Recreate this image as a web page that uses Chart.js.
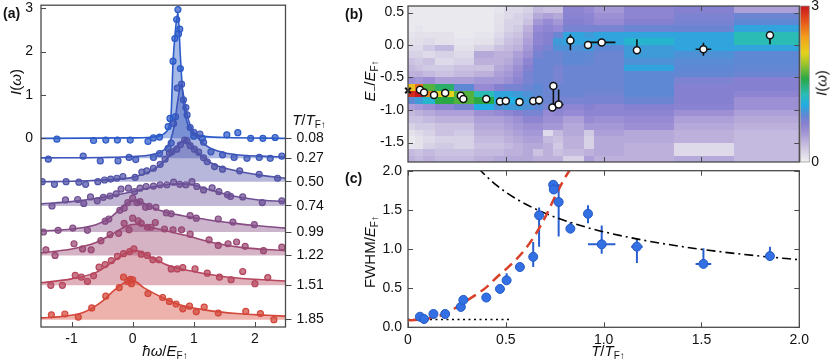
<!DOCTYPE html>
<html>
<head>
<meta charset="utf-8">
<script src="https://cdn.jsdelivr.net/npm/chart.js@4.4.1/dist/chart.umd.min.js"></script>
<style>
  body { margin: 0; background: #fff; font-family: "Liberation Sans", Arial, sans-serif; }
  #wrap { position: relative; width: 830px; height: 362px; overflow: hidden; }
  canvas { position: absolute; }
  .lbl { position: absolute; font-size: 15px; color: #111; white-space: nowrap; transform: translate(-50%, -50%); }
  .rot { transform: translate(-50%, -50%) rotate(-90deg); }
  .pan { position: absolute; font-size: 14px; font-weight: bold; color: #111; }
  sub { font-size: 10px; vertical-align: -3px; font-style: normal; }
</style>
</head>
<body>
<div id="wrap">
  <canvas id="chartA" width="330" height="362" style="left:0;top:0"></canvas>
  <canvas id="chartB" width="500" height="168" style="left:330px;top:0"></canvas>
  <canvas id="chartC" width="500" height="206" style="left:330px;top:156px"></canvas>

  <div class="pan" style="left:3px;top:5px">(a)</div>
  <div class="pan" style="left:345px;top:6px">(b)</div>
  <div class="pan" style="left:345px;top:170px">(c)</div>
  <div class="lbl rot" style="left:15px;top:82px"><i>I</i>(<i>ω</i>)</div>
  <div class="lbl" style="left:165px;top:351px"><i>ħω</i>/<i>E</i><sub>F↑</sub></div>
  <div class="lbl" style="left:309px;top:120px"><i>T</i>/<i>T</i><sub>F↑</sub></div>
  <div class="lbl rot" style="left:370px;top:81px"><i>E</i><sub>−</sub>/<i>E</i><sub>F↑</sub></div>
  <div class="lbl rot" style="left:370px;top:252px">FWHM/<i>E</i><sub>F↑</sub></div>
  <div class="lbl" style="left:608px;top:351px"><i>T</i>/<i>T</i><sub>F↑</sub></div>
  <div class="lbl rot" style="left:821px;top:83px"><i>I</i>(<i>ω</i>)</div>
</div>

<script>
// ---- panel (a): spectra at several temperatures ----
const aTemps = ['0.08', '0.27', '0.50', '0.74', '0.99', '1.22', '1.51', '1.85'];
const aOffsets = [0, -0.46, -1.0, -1.56, -2.16, -2.70, -3.39, -4.18];
const aXTicks = [-1, 0, 1, 2];
const aYTicks = [0, 1, 2, 3];

// fitted curves (height above each trace's own baseline)
const fitX1 = [-1.5, 0.0, 0.4, 0.55, 0.6, 0.63, 0.66, 0.7, 0.74, 0.78, 0.82, 0.86, 0.92, 1.05, 1.5, 2.5];
const fitY1 = [0, 0.01, 0.05, 0.15, 0.3, 0.6, 1.75, 2.5, 2.9, 1.9, 1.0, 0.55, 0.25, 0.08, 0.02, 0];
const fitX2 = [-1.5, -0.5, 0, 0.3, 0.5, 0.6, 0.68, 0.74, 0.79, 0.85, 0.92, 1.0, 1.1, 1.25, 1.5, 1.8, 2.1, 2.5];
const fitY2 = [0.01, 0.02, 0.04, 0.08, 0.18, 0.35, 0.75, 1.35, 1.7, 1.3, 0.85, 0.6, 0.42, 0.25, 0.13, 0.07, 0.05, 0.03];
const fitX3 = [-1.5, -1.0, -0.5, 0, 0.3, 0.5, 0.65, 0.75, 0.85, 0.95, 1.1, 1.3, 1.6, 2.0, 2.5];
const fitY3 = [0.0, 0.01, 0.04, 0.1, 0.25, 0.45, 0.68, 0.85, 0.95, 0.85, 0.63, 0.42, 0.28, 0.17, 0.08];
const fitX4 = [-1.5, -1, -0.5, 0, 0.3, 0.6, 0.8, 1.0, 1.2, 1.4, 1.6, 2.0, 2.5];
const fitY4 = [0.05, 0.1, 0.2, 0.33, 0.43, 0.5, 0.51, 0.48, 0.4, 0.32, 0.24, 0.15, 0.1];
const fitX5 = [-1.5, -1.0, -0.6, -0.35, -0.15, 0.0, 0.15, 0.4, 0.8, 1.2, 1.6, 2.0, 2.5];
const fitY5 = [0.02, 0.07, 0.17, 0.35, 0.6, 0.73, 0.68, 0.52, 0.38, 0.29, 0.21, 0.15, 0.09];
const fitX6 = [-1.5, -1.0, -0.6, -0.3, -0.1, 0.05, 0.3, 0.6, 0.9, 1.3, 1.8, 2.5];
const fitY6 = [0.06, 0.15, 0.3, 0.52, 0.68, 0.72, 0.65, 0.55, 0.45, 0.3, 0.18, 0.11];
const fitX7 = [-1.5, -1.0, -0.6, -0.3, -0.1, 0.05, 0.3, 0.6, 1.0, 1.5, 2.0, 2.5];
const fitY7 = [0.06, 0.15, 0.3, 0.57, 0.75, 0.8, 0.65, 0.45, 0.32, 0.2, 0.14, 0.1];
const fitX8 = [-1.5, -1.1, -0.8, -0.5, -0.3, -0.1, 0.0, 0.2, 0.5, 0.8, 1.2, 1.7, 2.2, 2.5];
const fitY8 = [0.04, 0.08, 0.17, 0.42, 0.68, 0.88, 0.9, 0.72, 0.5, 0.33, 0.22, 0.14, 0.1, 0.08];

// measured points
const ptX1 = [-1.24, -0.64, -0.44, -0.25, -0.04, 0.25, 0.34, 0.44, 0.58, 0.61, 0.66, 0.69, 0.70, 0.72, 0.74, 0.75, 0.77, 0.78, 1.0, 1.14, 1.54, 1.72, 1.93, 2.13, 2.33];
const ptY1 = [-0.02, -0.05, -0.04, -0.04, -0.04, -0.07, 0.01, 0.03, 0.27, 0.46, 1.78, 2.3, 0.5, 2.74, 2.97, 2.41, 2.52, 1.61, 0.05, 0.0, 0.08, 0.13, 0.0, 0.0, 0.02];
const ptX2 = [-1.38, -0.81, -0.53, -0.24, -0.06, 0.05, 0.34, 0.44, 0.58, 0.63, 0.67, 0.73, 0.8, 0.83, 0.87, 0.89, 0.94, 1.0, 1.1, 1.16, 1.28, 1.47, 1.66, 1.87, 2.07, 2.25, 2.44];
const ptY2 = [-0.02, 0.05, -0.06, -0.06, 0.02, -0.03, 0.02, 0.11, 0.23, 0.35, 0.8, 1.62, 1.71, 1.35, 1.17, 1.0, 0.71, 0.6, 0.56, 0.37, 0.15, 0.08, 0.02, 0.0, 0.02, 0.0, 0.05];
const ptX3 = [-1.48, -1.28, -1.09, -0.88, -0.77, -0.57, -0.46, -0.36, -0.26, -0.16, 0.04, 0.15, 0.23, 0.34, 0.45, 0.53, 0.60, 0.64, 0.72, 0.78, 0.85, 0.89, 0.94, 1.01, 1.08, 1.16, 1.22, 1.34, 1.47, 1.75, 2.07, 2.37];
const ptY3 = [0.0, -0.06, 0.0, -0.01, -0.06, 0.0, 0.04, 0.06, 0.08, 0.12, 0.1, 0.22, 0.25, 0.31, 0.40, 0.52, 0.66, 0.69, 0.75, 0.85, 0.96, 0.94, 0.83, 0.75, 0.68, 0.55, 0.46, 0.35, 0.29, 0.25, 0.17, 0.08];
const ptX4 = [-1.32, -1.10, -0.90, -0.80, -0.69, -0.58, -0.48, -0.37, -0.27, -0.19, -0.07, 0.03, 0.12, 0.22, 0.34, 0.45, 0.56, 0.67, 0.77, 0.87, 0.97, 1.05, 1.16, 1.30, 1.41, 1.55, 1.60, 1.80, 2.12, 2.44];
const ptY4 = [0.0, 0.14, 0.15, 0.06, 0.21, 0.12, 0.2, 0.23, 0.28, 0.39, 0.41, 0.33, 0.41, 0.45, 0.46, 0.49, 0.49, 0.55, 0.5, 0.49, 0.56, 0.45, 0.37, 0.42, 0.33, 0.26, 0.22, 0.21, 0.08, 0.12];
const ptX5 = [-1.46, -1.22, -0.98, -0.74, -0.45, -0.39, -0.21, -0.14, -0.08, 0.0, 0.07, 0.12, 0.21, 0.27, 0.38, 0.55, 0.63, 0.94, 1.04, 1.40, 1.64, 1.99];
const ptY5 = [0.0, 0.04, 0.09, 0.04, 0.25, 0.3, 0.5, 0.55, 0.68, 0.78, 0.68, 0.7, 0.57, 0.59, 0.57, 0.44, 0.42, 0.38, 0.32, 0.3, 0.23, 0.17];
const ptX6 = [-1.42, -1.27, -0.96, -0.82, -0.68, -0.52, -0.37, -0.23, -0.14, -0.06, 0.0, 0.09, 0.14, 0.24, 0.30, 0.37, 0.52, 0.66, 0.80, 0.94, 1.25, 1.40, 1.56, 1.70, 1.84, 2.14, 2.44];
const ptY6 = [0.13, 0.0, 0.27, 0.15, 0.13, 0.34, 0.48, 0.51, 0.74, 0.59, 0.86, 0.80, 0.74, 0.65, 0.65, 0.76, 0.61, 0.59, 0.59, 0.49, 0.36, 0.23, 0.27, 0.31, 0.21, 0.11, 0.19];
const ptX7 = [-1.34, -1.15, -0.94, -0.84, -0.74, -0.64, -0.55, -0.45, -0.35, -0.25, -0.15, -0.05, 0.02, 0.14, 0.24, 0.33, 0.43, 0.63, 0.73, 0.82, 1.02, 1.22, 1.42, 1.61, 1.80, 2.0, 2.21];
const ptY7 = [0.0, 0.0, 0.23, 0.19, 0.09, 0.22, 0.42, 0.48, 0.57, 0.67, 0.73, 0.78, 0.84, 0.72, 0.69, 0.59, 0.59, 0.38, 0.38, 0.41, 0.38, 0.28, 0.19, 0.13, 0.32, 0.04, 0.18];
const ptX8 = [-1.33, -1.11, -0.89, -0.67, -0.44, -0.22, -0.15, -0.08, -0.04, 0.0, -0.02, 0.25, 0.49, 0.60, 0.71, 0.82, 0.93, 1.04, 1.17, 1.40, 1.85, 2.09, 2.31];
const ptY8 = [0.11, 0.13, 0.06, 0.27, 0.54, 0.74, 0.98, 0.88, 0.93, 0.92, 0.83, 0.60, 0.51, 0.42, 0.36, 0.25, 0.31, 0.18, 0.29, 0.15, 0.19, 0.14, 0.0];

// ---- panel (b): intensity map and peak positions ----
const heatEdgesT = [0, 0.035, 0.075, 0.138, 0.237, 0.339, 0.441, 0.492, 0.538, 0.589, 0.64, 0.691, 0.742, 0.793, 0.899, 0.95, 1.103, 1.359, 1.665, 2.0];
const heatEdgesE = [0.6, 0.5, 0.4, 0.3, 0.2, 0.1, 0.0, -0.1, -0.2, -0.3, -0.4, -0.5, -0.6, -0.7, -0.8, -0.9, -1.0, -1.1, -1.2, -1.3, -1.4, -1.5, -1.6, -1.7, -1.8];
// one column per temperature bin, rows from E = 0.6 down to -1.8
const heatVals = [
  [0.05, 0.05, 0.05, 0.05, 0.08, 0.1, 0.15, 0.2, 0.3, 0.35, 0.4, 0.6, 2.2, 2.9, 0.9, 0.5, 0.35, 0.3, 0.2, 0.1, 0.05, 0.08, 0.35, 0.4],
  [0.05, 0.05, 0.05, 0.08, 0.1, 0.12, 0.15, 0.2, 0.25, 0.3, 0.4, 0.55, 2.6, 3.0, 1.0, 0.55, 0.4, 0.3, 0.25, 0.15, 0.1, 0.1, 0.3, 0.35],
  [0.05, 0.05, 0.05, 0.05, 0.1, 0.15, 0.25, 0.15, 0.3, 0.25, 0.35, 0.6, 1.7, 2.5, 1.2, 0.6, 0.45, 0.35, 0.25, 0.2, 0.15, 0.2, 0.35, 0.4],
  [0.05, 0.05, 0.05, 0.05, 0.1, 0.1, 0.35, 0.2, 0.15, 0.25, 0.3, 0.5, 1.5, 2.1, 1.6, 0.7, 0.5, 0.4, 0.3, 0.3, 0.2, 0.25, 0.3, 0.35],
  [0.05, 0.05, 0.05, 0.05, 0.05, 0.08, 0.1, 0.15, 0.2, 0.3, 0.35, 0.5, 0.9, 1.7, 1.7, 0.8, 0.5, 0.4, 0.3, 0.25, 0.2, 0.2, 0.3, 0.35],
  [0.05, 0.05, 0.05, 0.05, 0.08, 0.1, 0.2, 0.45, 0.4, 0.3, 0.4, 0.55, 0.65, 1.3, 1.6, 1.1, 0.6, 0.5, 0.45, 0.4, 0.35, 0.3, 0.35, 0.4],
  [0.08, 0.1, 0.1, 0.12, 0.15, 0.2, 0.3, 0.4, 0.4, 0.45, 0.5, 0.55, 0.75, 1.05, 1.1, 0.95, 0.65, 0.5, 0.45, 0.4, 0.35, 0.3, 0.35, 0.45],
  [0.15, 0.15, 0.2, 0.2, 0.25, 0.3, 0.35, 0.4, 0.45, 0.5, 0.55, 0.6, 0.8, 1.05, 1.1, 1.0, 0.7, 0.55, 0.5, 0.45, 0.4, 0.35, 0.4, 0.45],
  [0.15, 0.2, 0.2, 0.25, 0.3, 0.35, 0.4, 0.5, 0.55, 0.6, 0.65, 0.7, 0.8, 1.0, 1.1, 1.0, 0.75, 0.6, 0.55, 0.5, 0.45, 0.4, 0.4, 0.45],
  [0.2, 0.25, 0.3, 0.4, 0.45, 0.5, 0.55, 0.6, 0.7, 0.75, 0.8, 0.8, 0.85, 0.95, 1.0, 0.95, 0.8, 0.7, 0.6, 0.55, 0.5, 0.45, 0.45, 0.45],
  [0.35, 0.45, 0.55, 0.65, 0.7, 0.7, 0.75, 0.8, 0.85, 0.85, 0.85, 0.85, 0.9, 0.9, 0.95, 0.9, 0.8, 0.7, 0.6, 0.55, 0.5, 0.45, 0.3, 0.4],
  [0.3, 0.5, 0.65, 0.7, 0.75, 0.75, 0.8, 0.85, 0.85, 0.85, 0.85, 0.85, 0.85, 0.85, 0.85, 0.8, 0.65, 0.6, 0.55, 0.15, 0.35, 0.4, 0.4, 0.4],
  [0.3, 0.45, 0.55, 0.65, 0.85, 1.0, 0.95, 0.85, 0.85, 0.8, 0.8, 0.8, 0.85, 0.85, 0.8, 0.75, 0.7, 0.6, 0.55, 0.35, 0.3, 0.25, 0.3, 0.4],
  [0.7, 0.72, 0.75, 0.8, 1.05, 1.05, 0.95, 0.9, 0.9, 0.85, 0.85, 0.85, 0.85, 0.85, 0.8, 0.7, 0.65, 0.5, 0.45, 0.45, 0.4, 0.4, 0.35, 0.2],
  [0.65, 0.7, 0.72, 0.8, 1.0, 1.05, 1.0, 0.9, 0.88, 0.85, 0.85, 0.85, 0.85, 0.82, 0.8, 0.75, 0.7, 0.65, 0.55, 0.25, 0.2, 0.2, 0.4, 0.5],
  [0.55, 0.6, 0.65, 0.8, 1.05, 1.05, 0.9, 0.85, 0.85, 0.85, 0.85, 0.85, 0.85, 0.82, 0.8, 0.7, 0.7, 0.6, 0.55, 0.5, 0.45, 0.45, 0.45, 0.4],
  [0.7, 0.7, 0.75, 0.85, 1.05, 1.2, 1.0, 1.0, 0.95, 1.05, 0.9, 0.9, 0.9, 0.9, 0.85, 0.75, 0.7, 0.65, 0.6, 0.45, 0.45, 0.4, 0.4, 0.4],
  [0.75, 0.78, 0.8, 0.85, 1.05, 1.05, 1.05, 0.95, 0.92, 0.9, 0.88, 0.78, 0.75, 0.75, 0.75, 0.72, 0.6, 0.5, 0.45, 0.4, 0.4, 0.15, 0.15, 0.45],
  [0.5, 0.85, 0.9, 1.05, 1.3, 1.3, 1.05, 0.9, 0.9, 0.88, 0.85, 0.75, 0.75, 0.7, 0.6, 0.6, 0.5, 0.45, 0.4, 0.35, 0.35, 0.35, 0.35, 0.35]
];
const bT = [0.061, 0.082, 0.133, 0.19, 0.27, 0.283, 0.40, 0.47, 0.50, 0.57, 0.64, 0.67, 0.743, 0.738, 0.77, 0.83, 0.92, 0.99, 1.17, 1.51, 1.85];
const bE = [-0.69, -0.73, -0.77, -0.74, -0.78, -0.83, -0.83, -0.87, -0.86, -0.875, -0.86, -0.85, -0.63, -0.96, -0.915, 0.07, 0.0, 0.04, -0.08, -0.065, 0.15];
const bErrHi = [0, 0, 0, 0, 0, 0, 0, 0, 0, 0, 0.06, 0.07, 0, 0, 0.23, 0.09, 0, 0.02, 0.17, 0.1, 0];
const bErrLo = [0, 0, 0, 0, 0, 0, 0, 0, 0, 0, 0.05, 0.07, 0.33, 0, 0, 0.15, 0, 0.02, 0, 0.1, 0.14];
const bErrX = [0, 0, 0, 0, 0, 0, 0, 0, 0, 0, 0, 0.015, 0, 0, 0.025, 0, 0, 0.07, 0, 0.04, 0];
const bZeroT = [0];
const bZeroE = [-0.70];
const bYTicks = [0.5, 0, -0.5, -1, -1.5];
const bXTicks = [0.5, 1, 1.5];

// ---- panel (c): widths ----
const cT = [0.061, 0.082, 0.13, 0.19, 0.27, 0.283, 0.40, 0.47, 0.504, 0.572, 0.64, 0.67, 0.742, 0.745, 0.77, 0.83, 0.92, 0.99, 1.17, 1.51, 1.85];
const cF = [0.135, 0.106, 0.17, 0.17, 0.26, 0.35, 0.38, 0.49, 0.60, 0.77, 0.90, 1.43, 1.82, 1.76, 1.60, 1.26, 1.45, 1.06, 1.03, 0.81, 0.91];
const cErrHi = [0, 0, 0, 0, 0, 0, 0, 0, 0.09, 0, 0.19, 0.10, 0, 0, 0.23, 0.08, 0.11, 0.24, 0.10, 0.20, 0.12];
const cErrLo = [0, 0, 0, 0, 0, 0, 0, 0, 0, 0, 0.13, 0.40, 0, 0, 0.44, 0, 0.12, 0.12, 0.21, 0.05, 0.05];
const cErrX = [0, 0, 0, 0, 0, 0, 0, 0, 0, 0, 0, 0, 0, 0, 0.02, 0, 0, 0.07, 0.03, 0.04, 0];
const redT = [0, 0.05, 0.1, 0.15, 0.2, 0.25, 0.3, 0.35, 0.4, 0.45, 0.5, 0.55, 0.6, 0.65, 0.7, 0.75, 0.8, 0.84];
const redF = [0.09, 0.095, 0.11, 0.14, 0.18, 0.26, 0.34, 0.42, 0.51, 0.63, 0.74, 0.86, 1.0, 1.18, 1.4, 1.66, 1.9, 2.06];
const dashDotT = [0.36, 0.4, 0.45, 0.5, 0.6, 0.7, 0.8, 0.9, 1.0, 1.2, 1.4, 1.6, 1.8, 2.0];
const dashDotF = [2.03, 1.93, 1.82, 1.725, 1.575, 1.458, 1.364, 1.286, 1.22, 1.114, 1.031, 0.964, 0.909, 0.863];
const dottedT = [0, 0.53];
const dottedF = [0.1, 0.1];
const cXTicks = [0, 0.5, 1, 1.5, 2];
const cYTicks = [0, 0.5, 1, 1.5, 2];

// ---- styles ----
const traceColors = ['#2c5bc9', '#3c56ba', '#5153a8', '#6c5096', '#844c86', '#9a4873', '#b6465e', '#d4473a'];
const cmapVals = [0, 0.2, 0.4, 0.6, 0.75, 0.9, 1.0, 1.1, 1.3, 1.6, 1.9, 2.1, 2.4, 2.7, 3.0];
const cmapColors = ['#f0f0f0', '#d8d2e6', '#bdb1dc', '#9d8fd4', '#8580d0', '#5f88d4', '#3f9ad8', '#22ade3',
  '#2bbcb5', '#2aa846', '#a2c52a', '#e6d11c', '#f3a01c', '#e6561c', '#c8161e'];

Chart.defaults.font.family = '"Liberation Sans", Arial, sans-serif';
Chart.defaults.font.size = 14;
Chart.defaults.color = '#111';

function hexRgb(h) { return [1, 3, 5].map(i => parseInt(h.slice(i, i + 2), 16)); }
function hexA(h, a) { const [r, g, b] = hexRgb(h); return `rgba(${r},${g},${b},${a})`; }
function cmap(v) {
  v = Math.max(0, Math.min(3, v));
  for (let i = 1; i < cmapVals.length; i++) {
    if (v <= cmapVals[i]) {
      const t = (v - cmapVals[i - 1]) / (cmapVals[i] - cmapVals[i - 1]);
      const a = hexRgb(cmapColors[i - 1]), b = hexRgb(cmapColors[i]);
      return `rgb(${a.map((c, k) => Math.round(c + (b[k] - c) * t)).join(',')})`;
    }
  }
  return cmapColors[cmapColors.length - 1];
}
function pts(xs, ys, off) { return xs.map((v, i) => ({ x: v, y: ys[i] + (off || 0) })); }
function setTicks(values) { return s => { s.ticks = values.map(v => ({ value: v })); }; }
function fixSize(size) {
  return s => {
    if (s.isHorizontal()) s.height = size; else s.width = size;
    s.paddingTop = s.paddingBottom = s.paddingLeft = s.paddingRight = 0;
  };
}
const noGrid = { display: false, drawTicks: false };

// frame round the plot plus inward tick marks
function frameTicks(marks) {
  return {
    id: 'frameTicks',
    afterDraw(chart) {
      const ctx = chart.ctx, a = chart.chartArea, scales = chart.scales;
      ctx.save();
      ctx.strokeStyle = '#4a4a4a';
      ctx.lineWidth = 1;
      marks.forEach(m => {
        const s = scales[m[0]], side = m[1];
        m[2].forEach(v => {
          const p = Math.round(s.getPixelForValue(v)) + 0.5;
          ctx.beginPath();
          if (side === 'left') { ctx.moveTo(a.left, p); ctx.lineTo(a.left + 5, p); }
          if (side === 'right') { ctx.moveTo(a.right, p); ctx.lineTo(a.right - 5, p); }
          if (side === 'top') { ctx.moveTo(p, a.top); ctx.lineTo(p, a.top + 5); }
          if (side === 'bottom') { ctx.moveTo(p, a.bottom); ctx.lineTo(p, a.bottom - 5); }
          ctx.stroke();
        });
      });
      ctx.lineWidth = 1.3;
      ctx.strokeRect(a.left, a.top, a.right - a.left, a.bottom - a.top);
      ctx.restore();
    }
  };
}

function errorBars(sets) {
  return {
    id: 'errorBars',
    beforeDatasetsDraw(chart) {
      const { ctx, chartArea: a, scales: { x, y } } = chart;
      ctx.save();
      ctx.beginPath();
      ctx.rect(a.left, a.top, a.right - a.left, a.bottom - a.top);
      ctx.clip();
      sets.forEach(s => {
        ctx.strokeStyle = s.color;
        ctx.lineWidth = s.width;
        s.xs.forEach((xv, i) => {
          const yv = s.ys[i];
          const px = x.getPixelForValue(xv), py = y.getPixelForValue(yv);
          ctx.beginPath();
          if (s.lo[i] || s.hi[i]) {
            ctx.moveTo(px, y.getPixelForValue(yv - s.lo[i]));
            ctx.lineTo(px, y.getPixelForValue(yv + s.hi[i]));
          }
          if (s.dx[i]) {
            ctx.moveTo(x.getPixelForValue(xv - s.dx[i]), py);
            ctx.lineTo(x.getPixelForValue(xv + s.dx[i]), py);
          }
          ctx.stroke();
        });
      });
      ctx.restore();
    }
  };
}

const heatmap = {
  id: 'heatmap',
  beforeDatasetsDraw(chart) {
    const { ctx, chartArea: a, scales: { x, y, cb } } = chart;
    ctx.save();
    ctx.beginPath();
    ctx.rect(a.left, a.top, a.right - a.left, a.bottom - a.top);
    ctx.clip();
    heatVals.forEach((col, i) => {
      const x0 = Math.round(x.getPixelForValue(heatEdgesT[i]));
      const x1 = Math.round(x.getPixelForValue(heatEdgesT[i + 1]));
      col.forEach((v, j) => {
        const y0 = Math.round(y.getPixelForValue(heatEdgesE[j]));
        const y1 = Math.round(y.getPixelForValue(heatEdgesE[j + 1]));
        ctx.fillStyle = cmap(v);
        ctx.fillRect(x0, y0, x1 - x0, y1 - y0);
      });
    });
    ctx.restore();
    // colour bar
    const top = cb.getPixelForValue(3), bot = cb.getPixelForValue(0);
    const g = ctx.createLinearGradient(0, bot, 0, top);
    cmapVals.forEach((v, i) => g.addColorStop(v / 3, cmapColors[i]));
    ctx.save();
    ctx.fillStyle = g;
    ctx.fillRect(a.right + 1, top, 9, bot - top);
    ctx.strokeStyle = '#999';
    ctx.lineWidth = 0.8;
    ctx.strokeRect(a.right + 1, top, 9, bot - top);
    ctx.restore();
  }
};

const noUi = { legend: { display: false }, tooltip: { enabled: false } };

// ---- chart (a) ----
const fitX = [fitX1, fitX2, fitX3, fitX4, fitX5, fitX6, fitX7, fitX8];
const fitY = [fitY1, fitY2, fitY3, fitY4, fitY5, fitY6, fitY7, fitY8];
const ptX = [ptX1, ptX2, ptX3, ptX4, ptX5, ptX6, ptX7, ptX8];
const ptY = [ptY1, ptY2, ptY3, ptY4, ptY5, ptY6, ptY7, ptY8];
const aSets = [];
aTemps.forEach((t, k) => {
  const off = aOffsets[k], col = traceColors[k];
  aSets.push({
    label: 'fit ' + t, data: pts(fitX[k], fitY[k], off), showLine: true, pointRadius: 0,
    borderColor: col, borderWidth: 1.6, backgroundColor: hexA(col, 0.42),
    fill: { value: off }, cubicInterpolationMode: 'monotone', order: 100 - 2 * k
  });
  aSets.push({
    label: 'data ' + t, data: pts(ptX[k], ptY[k], off), showLine: false, pointRadius: 3,
    pointBackgroundColor: hexA(col, 0.72), pointBorderColor: col, pointBorderWidth: 1.2,
    order: 99 - 2 * k
  });
});

new Chart(document.getElementById('chartA'), {
  type: 'line',
  data: { datasets: aSets },
  options: {
    responsive: false, animation: false, events: [],
    layout: { padding: { top: 5, left: 0, right: 0, bottom: 0 } },
    plugins: noUi,
    scales: {
      x: {
        type: 'linear', min: -1.5, max: 2.5, grid: noGrid, border: { display: false },
        afterBuildTicks: setTicks(aXTicks), ticks: { padding: 4 }, afterFit: fixSize(35)
      },
      y: {
        min: -4.35, max: 3.07, grid: noGrid, border: { display: false },
        afterBuildTicks: setTicks(aYTicks), ticks: { padding: 8 }, afterFit: fixSize(41)
      },
      yR: {
        axis: 'y', position: 'right', min: -4.35, max: 3.07,
        grid: { display: true, drawOnChartArea: false, tickLength: 6, color: '#444' },
        border: { display: false },
        afterBuildTicks: setTicks(aOffsets),
        ticks: { padding: 5, autoSkip: false, callback: (v, i) => aTemps[i] },
        afterFit: fixSize(44.5)
      }
    }
  },
  plugins: [frameTicks([['y', 'left', aYTicks], ['x', 'bottom', aXTicks]])]
});

// ---- chart (b) ----
new Chart(document.getElementById('chartB'), {
  type: 'line',
  data: {
    datasets: [
      {
        label: 'peak', data: pts(bT, bE), showLine: false, pointRadius: 3.5,
        pointBackgroundColor: '#fff', pointBorderColor: '#111', pointBorderWidth: 1.5
      },
      {
        label: 'zero', data: pts(bZeroT, bZeroE), showLine: false, pointStyle: 'crossRot',
        pointRadius: 4, pointBorderColor: '#111', pointBorderWidth: 2, clip: false
      }
    ]
  },
  options: {
    responsive: false, animation: false, events: [],
    layout: { padding: { top: 5, bottom: 5, left: 0, right: 0 } },
    plugins: noUi,
    scales: {
      x: { type: 'linear', min: 0, max: 2, display: false },
      y: {
        min: -1.8, max: 0.6, grid: noGrid, border: { display: false },
        afterBuildTicks: setTicks(bYTicks),
        ticks: { padding: 4, callback: v => v.toFixed(1) }, afterFit: fixSize(78)
      },
      cb: {
        axis: 'y', position: 'right', min: 0, max: 3, grid: noGrid, border: { display: false },
        afterBuildTicks: setTicks([0, 3]), ticks: { padding: 12 }, afterFit: fixSize(30.7)
      }
    }
  },
  plugins: [
    heatmap,
    errorBars([{ xs: bT, ys: bE, lo: bErrLo, hi: bErrHi, dx: bErrX, color: '#111', width: 1.6 }]),
    frameTicks([['y', 'left', bYTicks], ['y', 'right', bYTicks], ['x', 'top', bXTicks], ['x', 'bottom', bXTicks]])
  ]
});

// ---- chart (c) ----
new Chart(document.getElementById('chartC'), {
  type: 'line',
  data: {
    datasets: [
      {
        label: 'FWHM', data: pts(cT, cF), showLine: false, pointRadius: 4.5,
        pointBackgroundColor: '#3370e3', pointBorderColor: '#2458c4', pointBorderWidth: 1, order: 0
      },
      {
        label: 'low T', data: pts(redT, redF), showLine: true, pointRadius: 0, borderColor: '#d8402a',
        borderWidth: 2.5, borderDash: [10, 6], cubicInterpolationMode: 'monotone', order: 2
      },
      {
        label: 'high T', data: pts(dashDotT, dashDotF), showLine: true, pointRadius: 0, borderColor: '#000',
        borderWidth: 1.6, borderDash: [9, 4, 2, 4], cubicInterpolationMode: 'monotone', order: 2
      },
      {
        label: 'resolution', data: pts(dottedT, dottedF), showLine: true, pointRadius: 0, borderColor: '#000',
        borderWidth: 1.6, borderDash: [2, 3.5], order: 2
      }
    ]
  },
  options: {
    responsive: false, animation: false, events: [],
    layout: { padding: { top: 14.7, right: 30.7, left: 0, bottom: 0 } },
    plugins: noUi,
    scales: {
      x: {
        type: 'linear', min: 0, max: 2, grid: noGrid, border: { display: false },
        afterBuildTicks: setTicks(cXTicks), ticks: { padding: 4 }, afterFit: fixSize(34.7)
      },
      y: {
        min: 0, max: 2, grid: noGrid, border: { display: false },
        afterBuildTicks: setTicks(cYTicks),
        ticks: { padding: 6, callback: v => v.toFixed(1) }, afterFit: fixSize(78)
      }
    }
  },
  plugins: [
    errorBars([{ xs: cT, ys: cF, lo: cErrLo, hi: cErrHi, dx: cErrX, color: '#2a5fcf', width: 2 }]),
    frameTicks([['y', 'left', cYTicks], ['y', 'right', cYTicks], ['x', 'top', cXTicks], ['x', 'bottom', cXTicks]])
  ]
});
</script>
</body>
</html>
